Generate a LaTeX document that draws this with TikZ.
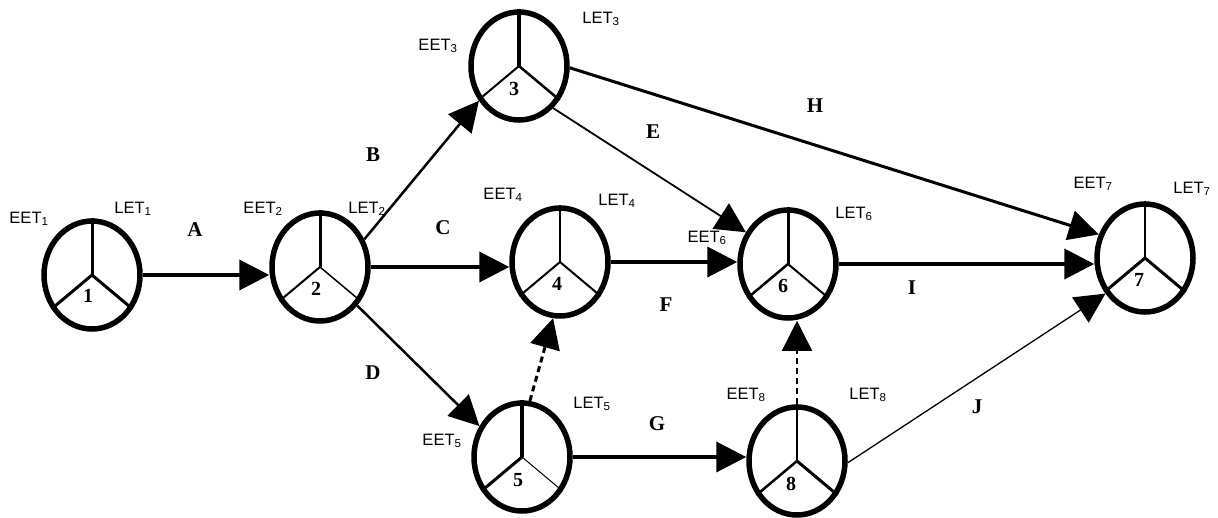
\documentclass[tikz,border=0pt]{standalone}
\usepackage{fontspec}
\setmainfont{Liberation Serif}
\newfontfamily\lblfont{Liberation Sans}
\usetikzlibrary{shapes.geometric,arrows.meta}
\newcommand\ysym[4]{%
  \draw[line width=#2pt] (#1.north) -- (#1.center);
  \draw[line width=#3pt] (#1.center) -- (#1.220);
  \draw[line width=#4pt] (#1.center) -- (#1.320);}
\tikzset{
  evt/.style={ellipse, draw, line width=5.5pt, minimum width=96pt, minimum height=108pt, inner sep=0pt},
  num/.style={font=\fontsize{20}{20}\selectfont\bfseries, inner sep=0pt},
  tm/.style={font=\lblfont\fontsize{16.5}{16.5}\selectfont, inner sep=0pt},
  act/.style={font=\fontsize{21}{21}\selectfont\bfseries, inner sep=0pt},
  arr/.style={-{Triangle[length=30pt,width=30pt]}},
  thickedge/.style={arr, line width=4pt},
  midedge/.style={arr, line width=2.5pt},
  thinedge/.style={arr, line width=1.5pt},
  dummy/.style={arr, dashed, dash pattern=on 6pt off 4pt},
}
\begin{document}
\begin{tikzpicture}[x=1pt,y=-1pt]
\useasboundingbox (0,0) rectangle (1218,517);
% events
\node[evt] (n1) at (92,275) {};
\node[evt] (n2) at (320,267) {};
\node[evt] (n3) at (519,66) {};
\node[evt] (n4) at (560,262) {};
\node[evt] (n5) at (522,457) {};
\node[evt] (n6) at (788,264) {};
\node[evt] (n7) at (1145,258) {};
\node[evt] (n8) at (797,461) {};
\ysym{n1}{3}{3}{3}
\ysym{n2}{3}{2}{1.5}
\ysym{n3}{4}{2}{2.5}
\ysym{n4}{1.5}{2}{2}
\ysym{n5}{4}{3}{1}
\ysym{n6}{3}{2.5}{2}
\ysym{n7}{2}{3}{3}
\ysym{n8}{1.5}{2.5}{3}
% numbers
\node[num] (k1) at (88,296) {1};
\node[num] (k2) at (316,289) {2};
\node[num] (k3) at (514,89) {3};
\node[num] (k4) at (557,284) {4};
\node[num] (k5) at (518,480) {5};
\node[num] (k6) at (783,286) {6};
\node[num] (k7) at (1139,280) {7};
\node[num] (k8) at (791,484) {8};
% time labels
\node[tm] (e1) at (29,219) {EET\textsubscript{1}};
\node[tm] (l1) at (133,209) {LET\textsubscript{1}};
\node[tm] (e2) at (263,209) {EET\textsubscript{2}};
\node[tm] (l2) at (367,209) {LET\textsubscript{2}};
\node[tm] (e3) at (438,46) {EET\textsubscript{3}};
\node[tm] (l3) at (601,19) {LET\textsubscript{3}};
\node[tm] (e4) at (503,195) {EET\textsubscript{4}};
\node[tm] (l4) at (617,201) {LET\textsubscript{4}};
\node[tm] (e5) at (442,441) {EET\textsubscript{5}};
\node[tm] (l5) at (592,404) {LET\textsubscript{5}};
\node[tm] (e6) at (707,238) {EET\textsubscript{6}};
\node[tm] (l6) at (854,214) {LET\textsubscript{6}};
\node[tm] (e7) at (1093,184) {EET\textsubscript{7}};
\node[tm] (l7) at (1192,189) {LET\textsubscript{7}};
\node[tm] (e8) at (746,395) {EET\textsubscript{8}};
\node[tm] (l8) at (868,395) {LET\textsubscript{8}};
% activity labels
\node[act] (tA) at (195,230) {A};
\node[act] (tB) at (373,155) {B};
\node[act] (tC) at (443,228) {C};
\node[act] (tD) at (373,373) {D};
\node[act] (tE) at (653,132) {E};
\node[act] (tH) at (815,106) {H};
\node[act] (tF) at (666,305) {F};
\node[act] (tG) at (657,424) {G};
\node[act] (tI) at (912,288) {I};
\node[act] (tJ) at (977,407) {J};
% activities
\draw[thickedge] (n1.east) -- (n1.east -| n2.west);
\draw[midedge] (n2.32) -- (n3.221);
\draw[thickedge] (n2.east) -- (n2.east -| n4.west);
\draw[midedge] (n2.314) -- (n5.144);
\draw[thinedge, line width=1.8pt] (n3.309) -- (n6.143);
\draw[arr, line width=3pt] (n3.358) -- (n7.153);
\draw[thickedge] (n4.east) -- (n4.east -| n6.west);
\draw[thickedge] (n6.east) -- (n6.east -| n7.west);
\draw[thickedge] (n5.east) -- (n5.east -| n8.west);
\draw[thinedge, line width=1.3pt] (n8.358) -- (n7.222);
\draw[dummy, line width=3pt] (n5.82) -- (n4.263);
\draw[dummy, line width=1.5pt] (n8.north) -- (n8.north |- n6.south);
\end{tikzpicture}
\end{document}
